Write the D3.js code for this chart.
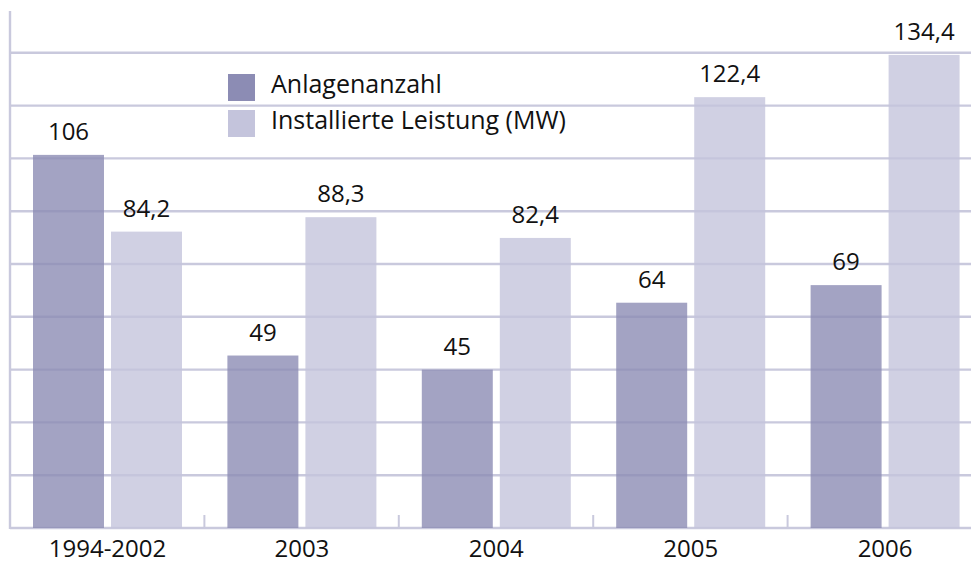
<!DOCTYPE html>
<html lang="de">
<head>
    <meta charset="UTF-8"/>
    <title>Anlagenanzahl und installierte Leistung</title>
    <script src="https://d3js.org/d3.v7.min.js"></script>
    <style>
        body { margin: 0; background: #fff; }
        text { font-family: "Open Sans", "Noto Sans", sans-serif; fill: #111; }
    </style>
</head>
<body>
<script>
    var w = 971;
    var h = 565;

    var categories = ["1994-2002", "2003", "2004", "2005", "2006"];
    var anlagen = [106, 49, 45, 64, 69];
    var leistung = [84.2, 88.3, 82.4, 122.4, 134.4];
    var seriesNames = ["Anlagenanzahl", "Installierte Leistung (MW)"];
    var gridTicks = [15, 30, 45, 60, 75, 90, 105, 120, 135];

    var colors = ["#8c8cb4", "#c4c4dc"];
    var gridColor = "#c9c9dd";

    var left = 10, baseY = 528;

    var xScale = d3.scaleBand()
                   .domain(categories)
                   .range([left, left + 194.4 * categories.length]);

    var xInner = d3.scaleBand()
                   .domain([0, 1])
                   .range([23, 172])
                   .paddingInner(0.09);

    var yScale = d3.scaleLinear()
                   .domain([0, 150])
                   .range([baseY, 0]);

    var fmt = function(v){ return String(v).replace(".", ","); };

    var svg = d3.select("body")
                .append("svg")
                .attr("width", w)
                .attr("height", h);

    // gridlines
    svg.selectAll("line.grid")
       .data(gridTicks)
       .enter()
       .append("line")
       .attr("class", "grid")
       .attr("x1", left)
       .attr("x2", w)
       .attr("y1", function(d){ return yScale(d); })
       .attr("y2", function(d){ return yScale(d); })
       .attr("stroke", gridColor)
       .attr("stroke-width", 2.4);

    // y axis line and baseline
    svg.append("line")
       .attr("x1", left).attr("x2", left)
       .attr("y1", 11).attr("y2", baseY + 1)
       .attr("stroke", gridColor).attr("stroke-width", 2.4);
    svg.append("line")
       .attr("x1", left).attr("x2", w)
       .attr("y1", baseY).attr("y2", baseY)
       .attr("stroke", gridColor).attr("stroke-width", 2.6);

    // small ticks between groups
    svg.selectAll("line.tick")
       .data(categories.slice(1))
       .enter()
       .append("line")
       .attr("class", "tick")
       .attr("x1", function(d){ return xScale(d); })
       .attr("x2", function(d){ return xScale(d); })
       .attr("y1", baseY - 13).attr("y2", baseY)
       .attr("stroke", gridColor).attr("stroke-width", 2);

    var rows = categories.map(function(c, i){
        return {cat: c, vals: [anlagen[i], leistung[i]]};
    });

    var groups = svg.selectAll("g.grp")
                    .data(rows)
                    .enter()
                    .append("g")
                    .attr("class", "grp")
                    .attr("transform", function(d){ return "translate(" + xScale(d.cat) + ",0)"; });

    groups.selectAll("rect")
          .data(function(d){ return d.vals; })
          .enter()
          .append("rect")
          .attr("x", function(d, i){ return xInner(i); })
          .attr("y", function(d){ return yScale(d); })
          .attr("width", xInner.bandwidth())
          .attr("height", function(d){ return baseY - yScale(d); })
          .attr("fill", function(d, i){ return colors[i]; })
          .attr("fill-opacity", 0.8);

    groups.selectAll("text.val")
          .data(function(d){ return d.vals; })
          .enter()
          .append("text")
          .attr("class", "val")
          .attr("x", function(d, i){ return xInner(i) + xInner.bandwidth() / 2; })
          .attr("y", function(d){ return yScale(d) - 15; })
          .attr("text-anchor", "middle")
          .attr("font-size", 24)
          .text(function(d){ return fmt(d); });

    // category labels
    svg.selectAll("text.cat")
       .data(categories)
       .enter()
       .append("text")
       .attr("class", "cat")
       .attr("x", function(d){ return xScale(d) + 97.5; })
       .attr("y", 557)
       .attr("text-anchor", "middle")
       .attr("font-size", 24)
       .text(function(d){ return d; });

    // legend
    var legend = svg.selectAll("g.leg")
                    .data(seriesNames)
                    .enter()
                    .append("g")
                    .attr("class", "leg")
                    .attr("transform", function(d, i){ return "translate(228," + (74 + i * 36) + ")"; });
    legend.append("rect")
          .attr("width", 27).attr("height", 27)
          .attr("fill", function(d, i){ return colors[i]; });
    legend.append("text")
          .attr("x", 43).attr("y", 19)
          .attr("font-size", 25)
          .text(function(d){ return d; });
</script>
</body>
</html>
